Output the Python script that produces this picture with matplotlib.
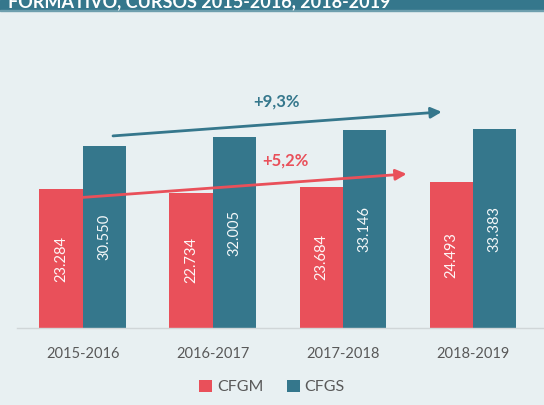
import matplotlib.pyplot as plt
import numpy as np

years = ['2015-2016', '2016-2017', '2017-2018', '2018-2019']
cfgm = [23284, 22734, 23684, 24493]
cfgs = [30550, 32005, 33146, 33383]
cfgm_labels = ['23.284', '22.734', '23.684', '24.493']
cfgs_labels = ['30.550', '32.005', '33.146', '33.383']

red = '#E9505A'
teal = '#35778C'
bg = '#E8F0F2'

plt.rcParams['font.family'] = ['Lato', 'DejaVu Sans']

fig = plt.figure(figsize=(5.44, 4.05), dpi=100, facecolor=bg)
ax = fig.add_axes([17 / 544, 77 / 405, 527 / 544, 298 / 405])
ax.set_facecolor(bg)

x = np.arange(len(years))
w = 0.333
b1 = ax.bar(x - w / 2, cfgm, w, color=red, label='CFGM')
b2 = ax.bar(x + w / 2, cfgs, w, color=teal, label='CFGS')

for bars, labels in ((b1, cfgm_labels), (b2, cfgs_labels)):
    for rect, lab in zip(bars, labels):
        ax.text(rect.get_x() + rect.get_width() / 2, rect.get_height() / 2, lab,
                rotation=90, ha='center', va='center', color='white',
                fontsize=10.5, alpha=0.95)

ax.set_xlim(-0.505, 3.546)
ax.set_ylim(0, 50000)
ax.set_xticks(x)
ax.set_xticklabels(years, fontsize=10.5, color='#595959')
ax.tick_params(axis='x', length=0, pad=14)
ax.set_yticks([])
for s in ['top', 'right', 'left']:
    ax.spines[s].set_visible(False)
ax.spines['bottom'].set_color('#D0D6D8')
ax.spines['bottom'].set_linewidth(1)

# growth arrows
ax.annotate('', xy=(2.76, 36260), xytext=(0.233, 32230),
            arrowprops=dict(arrowstyle='-|>', lw=2, color=teal, mutation_scale=16,
                            shrinkA=0, shrinkB=0))
ax.text(1.49, 37940, '+9,3%', color=teal, fontsize=12, fontweight='bold',
        ha='center', va='center')
ax.annotate('', xy=(2.49, 25850), xytext=(-0.267, 21490),
            arrowprops=dict(arrowstyle='-|>', lw=2, color=red, mutation_scale=16,
                            shrinkA=0, shrinkB=0))
ax.text(1.555, 28030, '+5,2%', color=red, fontsize=12, fontweight='bold',
        ha='center', va='center')

leg = fig.legend(loc='center', bbox_to_anchor=(0.5, 1 - 387 / 405), ncol=2,
                 frameon=False, fontsize=11.5, handlelength=0.8, handleheight=0.8,
                 handletextpad=0.3, columnspacing=1.5, labelcolor='#595959')

# title banner (cut off at top)
fig.patches.append(plt.Rectangle((0, 1 - 10 / 405), 1, 10 / 405, transform=fig.transFigure,
                                 color=teal, zorder=0))
fig.patches.append(plt.Rectangle((0, 1 - 11 / 405), 1, 1 / 405, transform=fig.transFigure,
                                 color='#6E9FAE', zorder=0))
fig.text(8 / 544, 1 - 7 / 405, 'FORMATIVO, CURSOS 2015-2016, 2018-2019', color='white',
         fontsize=13, fontweight='bold', ha='left', va='baseline')

fig.savefig('out.png', dpi=100, facecolor=bg)
